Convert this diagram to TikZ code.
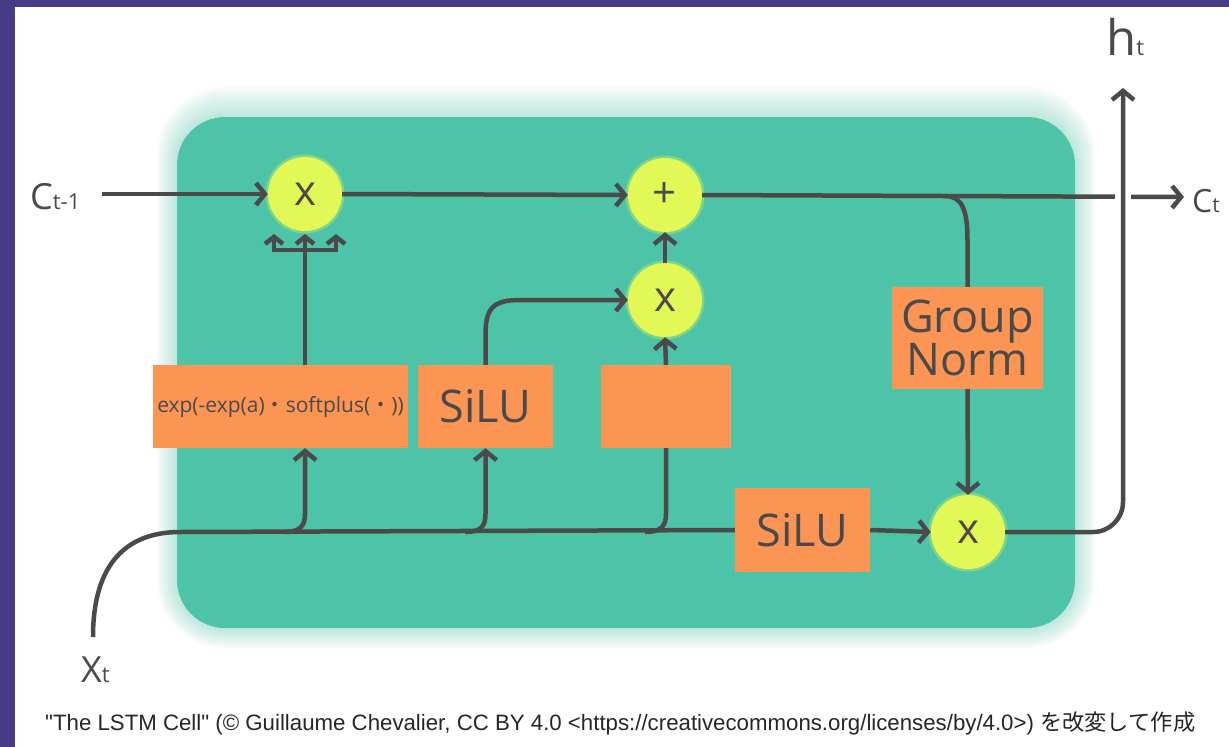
\documentclass[tikz,border=0pt]{standalone}
\usepackage{fontspec}
\setmainfont{Open Sans}
\newfontfamily\capfont[Ligatures=TeXOff]{Liberation Sans}
\newfontfamily\cjk{Noto Sans CJK JP}
\usetikzlibrary{arrows.meta}
\definecolor{tealbg}{HTML}{4DC3A8}
\definecolor{orng}{HTML}{FC9453}
\definecolor{ylw}{HTML}{E1F856}
\definecolor{ink}{HTML}{4A4A4A}
\definecolor{purp}{HTML}{463C86}
\begin{document}
\begin{tikzpicture}[x=1pt,y=-1pt,
  wire/.style={draw=ink,line width=4.5pt},
  arr/.style={wire,-{Straight Barb[length=9pt,width=22pt]}},
  sarr/.style={wire,-{Straight Barb[length=7pt,width=18pt]}},
  gate/.style={circle,fill=ylw,minimum size=74pt,inner sep=0pt,text=ink,
    font=\fontsize{42}{42}\selectfont,
    preaction={draw=ylw,line width=5pt,draw opacity=0.35}},
  layer/.style={fill=orng,inner sep=0pt,text=ink,align=center},
  lbl/.style={text=ink,inner sep=0pt}]
\useasboundingbox (0,0) rectangle (1229,747);
\fill[purp] (0,0) rectangle (1229,747);
\fill[white] (15,7) rectangle (1229,747);
% teal cell with glow
\foreach \i in {1,...,10}{
  \pgfmathsetmacro\rr{48+2*\i}
  \fill[tealbg,opacity=0.04,rounded corners=\rr pt]
    (177-2*\i,117-3*\i) rectangle (1075+2*\i,628+2*\i);
}
\fill[tealbg,rounded corners=48pt] (177,117) rectangle (1075,628);

% gates
\node[gate] (f) at (305,194) {x};
\node[gate] (add) at (665,195) {+};
\node[gate] (m) at (665,300) {x};
\node[gate] (o) at (968,532) {x};

% layers
\node[layer,minimum width=255pt,minimum height=83pt,font=\fontsize{21}{21}\selectfont] (expb) at (280.5,406.5) {exp(-exp(a){\cjk ・}softplus({\cjk ・}))};
\node[layer,minimum width=135pt,minimum height=83pt,font=\fontsize{45}{45}\selectfont] (silu1) at (485.5,406.5) {SiLU};
\node[layer,minimum width=130pt,minimum height=83pt] (emp) at (666,406.5) {};
\node[layer,minimum width=151pt,minimum height=102pt,font=\fontsize{45}{43}\selectfont] (gn) at (967.5,338) {Group\\Norm};
\node[layer,minimum width=135pt,minimum height=84pt,font=\fontsize{45}{45}\selectfont] (silu2) at (802.5,530) {SiLU};

% labels
\node[lbl,anchor=base west] (cin) at (30,209) {{\fontsize{36}{36}\selectfont C}{\fontsize{22}{22}\selectfont t-1}};
\node[lbl,anchor=base west] (ct) at (1192,212) {{\fontsize{32}{32}\selectfont C}{\fontsize{21}{21}\selectfont t}};
\node[lbl,anchor=base west] (ht) at (1106,55) {{\fontsize{49}{49}\selectfont h}{\fontsize{22}{22}\selectfont t}};
\node[lbl,anchor=base west] (xt) at (81,682) {{\fontsize{36}{36}\selectfont X}{\fontsize{22}{22}\selectfont t}};
\node[anchor=base west,inner sep=0pt,text=black!85] (cap) at (45,730)
  {\resizebox{1150pt}{!}{\capfont\fontsize{21}{21}\selectfont "The LSTM Cell" (\textcopyright{} Guillaume Chevalier, CC BY 4.0 <https://creativecommons.org/licenses/by/4.0>) {\cjk を改変して作成}}};

% coordinates for free ends
\coordinate (cinR) at (102,194);
\coordinate (ctL) at (1184,197);
\coordinate (htB) at (1123,88);
\coordinate (xin) at (93,637);

% cell state line
\draw[arr] (cinR) -- (f.west);
\draw[arr] (f.east) -- (add.west);
\draw[arr] (add.east) -- (ctL);
% group norm branch
\draw[wire] (945,196) .. controls (962,196) and (967.5,210) .. (967.5,240) -- (gn.north);
\draw[arr] (gn.south) -- (o.north);
% output h
\draw[white,line width=16pt] (1123,186) -- (1123,208);
\draw[arr,rounded corners=30pt] (o.east) -- (1123,532) -- (htB);
% input gate path
\draw[arr] (m.north) -- (add.south);
\draw[arr] (emp.north) -- (m.south);
\draw[arr] (silu1.north) -- (485.5,335) .. controls (485.5,308) and (493,300) .. (520,300) -- (m.west);
% forget trident
\draw[wire] (f |- expb.north) -- (305,250);
\draw[wire] (274,250) -- (336,250);
\foreach \dx in {-31,0,31}{
  \draw[sarr] (305+\dx,252) -- (305+\dx,234);
}
% trunk
\draw[wire] (xin) .. controls (93,562) and (128,532) .. (180,532) -- (silu2.west);
\draw[arr] (284,532) .. controls (299,532) and (305,527) .. (305,514) -- (f |- expb.south);
\draw[arr] (465,532) .. controls (480,532) and (485.5,527) .. (485.5,514) -- (silu1.south);
\draw[wire] (645,532) .. controls (660,532) and (666,527) .. (666,514) -- (emp.south);
\draw[arr] (silu2.east) -- (o.west);
\end{tikzpicture}
\end{document}
